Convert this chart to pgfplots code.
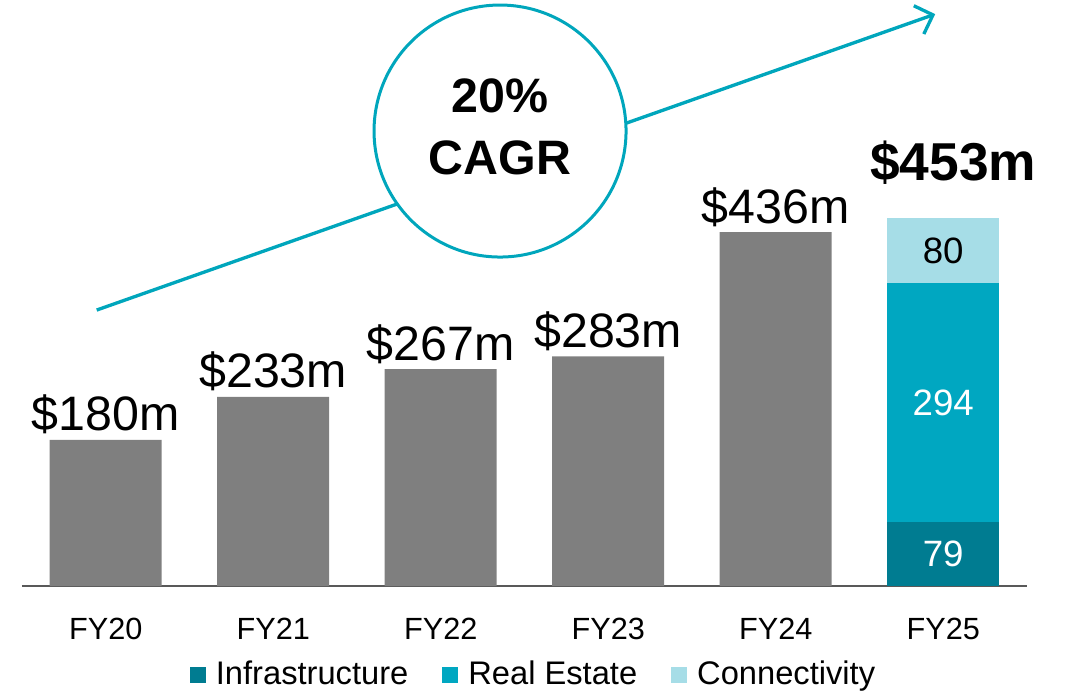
\documentclass[border=0pt]{standalone}
\usepackage{fontspec}
\setmainfont{Liberation Sans}
\usepackage{pgfplots}
\pgfplotsset{compat=1.18}
\usetikzlibrary{arrows.meta}
\definecolor{barGray}{HTML}{7F7F7F}
\definecolor{infra}{HTML}{007C91}
\definecolor{realest}{HTML}{00A7C1}
\definecolor{conn}{HTML}{A6DDE7}
\definecolor{cagrTeal}{HTML}{00A6BC}
\newcommand{\vallab}{\fontsize{14.5}{16}\selectfont}

\begin{document}
\begin{tikzpicture}
\path[use as bounding box] (-6.6pt,-31.2pt) rectangle (314.1pt,175.8pt);
\begin{axis}[
    scale only axis, width=301.5pt, height=175.8pt,
    ybar stacked, bar width=33.6pt,
    xmin=-0.5, xmax=5.5, ymin=0, ymax=721.8,
    axis y line=none, axis x line=bottom,
    x axis line style={-, draw=black!65, line width=0.6pt},
    xtick={0,...,5}, xticklabels={FY20,FY21,FY22,FY23,FY24,FY25},
    major tick length=0,
    xticklabel style={font=\fontsize{9.2}{10}\selectfont, yshift=-6pt},
    clip=false,
    legend style={at={(0.51,-0.152)}, anchor=center, draw=none, fill=none,
        legend columns=3, font=\fontsize{9.8}{11}\selectfont,
        /tikz/every even column/.append style={column sep=9pt},
        nodes={inner sep=1.2pt}},
    legend image code/.code={\fill[#1] (0pt,-2.4pt) rectangle (4.8pt,2.4pt); \path (6.6pt,0pt);},
]
\addplot[fill=barGray, draw=none, forget plot] coordinates {(0,180) (1,233) (2,267) (3,283) (4,436) (5,0)};
\addplot[fill=infra, draw=none] coordinates {(0,0) (1,0) (2,0) (3,0) (4,0) (5,79)};
\addlegendentry{Infrastructure}
\addplot[fill=realest, draw=none] coordinates {(0,0) (1,0) (2,0) (3,0) (4,0) (5,294)};
\addlegendentry{Real Estate}
\addplot[fill=conn, draw=none] coordinates {(0,0) (1,0) (2,0) (3,0) (4,0) (5,80)};
\addlegendentry{Connectivity}

% anchor points for the annotations drawn after the axis
\coordinate (v0) at (axis cs:0,180);
\coordinate (v1) at (axis cs:1,233);
\coordinate (v2) at (axis cs:2,267);
\coordinate (v3) at (axis cs:3,283);
\coordinate (v4) at (axis cs:4,436);
\coordinate (v5) at (axis cs:5,453);
\coordinate (s1) at (axis cs:5,39.5);
\coordinate (s2) at (axis cs:5,226);
\coordinate (s3) at (axis cs:5,413);
\coordinate (arrA) at (axis cs:-0.054,339.9);
\coordinate (arrB) at (axis cs:4.952,704.4);
\coordinate (circ) at (axis cs:2.354,560.4);
\end{axis}

% value labels
\node[font=\vallab, anchor=base, yshift=2.7pt] at (v0) {\$180m};
\node[font=\vallab, anchor=base, yshift=2.7pt] at (v1) {\$233m};
\node[font=\vallab, anchor=base, yshift=2.7pt] at (v2) {\$267m};
\node[font=\vallab, anchor=base, yshift=2.7pt] at (v3) {\$283m};
\node[font=\vallab, anchor=base, yshift=2.7pt] at (v4) {\$436m};
\node[font=\fontsize{16}{18}\selectfont\bfseries, anchor=base, yshift=11.4pt, xshift=3pt] at (v5) {\$453m};
\node[font=\fontsize{11}{12}\selectfont, text=white] at (s1) {79};
\node[font=\fontsize{11}{12}\selectfont, text=white] at (s2) {294};
\node[font=\fontsize{11}{12}\selectfont, text=black] at (s3) {80};

% CAGR arrow and circle
\draw[cagrTeal, line width=1pt, -{Straight Barb[length=4.5pt, width=9pt]}] (arrA) -- (arrB);
\draw[cagrTeal, line width=0.9pt, fill=white] (circ) circle[radius=37.8pt];
\node[font=\fontsize{14.5}{16}\selectfont\bfseries] at ([yshift=10.5pt]circ) {20\%};
\node[font=\fontsize{14.5}{16}\selectfont\bfseries] at ([yshift=-8.1pt]circ) {CAGR};
\end{tikzpicture}
\end{document}
